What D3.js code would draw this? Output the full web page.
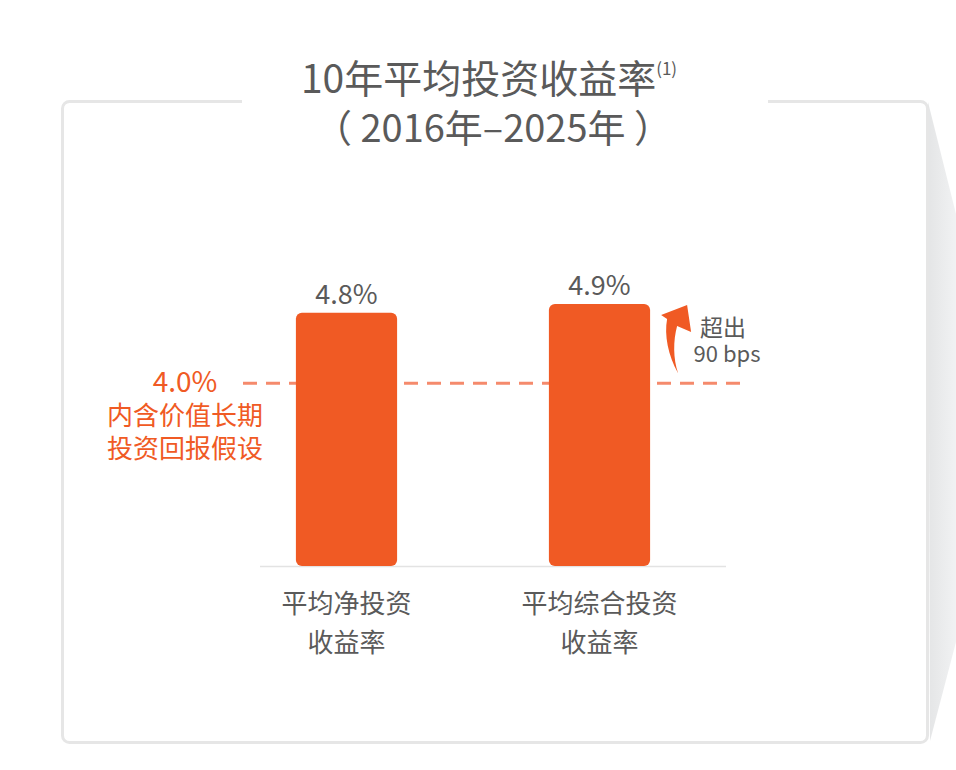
<!DOCTYPE html>
<html>
<head>
    <meta charset="utf-8">
    <title>10年平均投资收益率</title>
    <script src="https://cdn.jsdelivr.net/npm/d3@7"></script>
    <style>
        body { margin: 0; background: #fff; }
        text { font-family: "Noto Sans CJK SC", "Noto Sans", sans-serif; }
    </style>
</head>
<body>
    <div id="chart"></div>
    <script>
        // data
        var categories = [["平均净投资", "收益率"], ["平均综合投资", "收益率"]];
        var values = [4.8, 4.9];
        var valueLabels = ["4.8%", "4.9%"];
        var assumption = 4.0;
        var assumptionLabel = ["4.0%", "内含价值长期", "投资回报假设"];
        var spreadLabel = ["超出", "90 bps"];
        var titleLines = ["10年平均投资收益率", "（ 2016年–2025年 ）"];

        var width = 956,
            height = 770;

        var orange = "#f05a24",
            dashOrange = "#f58a6c",
            grey = "#5a5a5a",
            border = "#e6e6e6";

        var svg = d3.select("#chart").append("svg")
            .attr("width", width)
            .attr("height", height);

        var defs = svg.append("defs");
        var grad = defs.append("linearGradient").attr("id", "shade")
            .attr("x1", "0").attr("x2", "1").attr("y1", "0").attr("y2", "0");
        grad.append("stop").attr("offset", "0").attr("stop-color", "#e4e5e6");
        grad.append("stop").attr("offset", "1").attr("stop-color", "#f1f2f3");

        // page-curl shadow on the right
        svg.append("path")
            .attr("d", "M928,102 L956,214 L956,642 L930,741 Z")
            .attr("fill", "url(#shade)");

        // frame
        svg.append("rect")
            .attr("x", 62.5).attr("y", 101.5)
            .attr("width", 865).attr("height", 641)
            .attr("rx", 7)
            .attr("fill", "#fff")
            .attr("stroke", border)
            .attr("stroke-width", 3);

        // gap in the frame behind the title
        svg.append("rect")
            .attr("x", 242).attr("y", 96)
            .attr("width", 526).attr("height", 10)
            .attr("fill", "#fff");

        // title
        var t1 = svg.append("text")
            .attr("x", 489).attr("y", 93)
            .attr("text-anchor", "middle")
            .attr("fill", grey)
            .style("font-size", "39px");
        t1.append("tspan").text(titleLines[0]);
        t1.append("tspan").attr("dy", -18).style("font-size", "17px").text("(1)");

        svg.append("text")
            .attr("x", 493).attr("y", 142)
            .attr("text-anchor", "middle")
            .attr("fill", grey)
            .style("font-size", "38px")
            .text(titleLines[1]);

        // scales
        var x = d3.scaleBand()
            .domain(d3.range(values.length))
            .range([220, 726])
            .paddingInner(0.6)
            .paddingOuter(0.3);

        var y = d3.scaleLinear()
            .domain([1.925, 4.9])
            .range([566, 304]);

        // assumption line (behind bars)
        svg.append("line")
            .attr("x1", 243).attr("x2", 748)
            .attr("y1", y(assumption)).attr("y2", y(assumption))
            .attr("stroke", dashOrange)
            .attr("stroke-width", 3)
            .attr("stroke-dasharray", "14,9");

        // baseline
        svg.append("line")
            .attr("x1", 260).attr("x2", 726)
            .attr("y1", y.range()[0] + 0.5).attr("y2", y.range()[0] + 0.5)
            .attr("stroke", "#e3e3e3")
            .attr("stroke-width", 1.5);

        // bars
        svg.selectAll("rect.bar").data(values).enter()
            .append("rect")
            .attr("class", "bar")
            .attr("x", function(d, i) { return x(i); })
            .attr("y", function(d) { return y(d); })
            .attr("width", x.bandwidth())
            .attr("height", function(d) { return y.range()[0] - y(d); })
            .attr("rx", 6)
            .attr("fill", orange);

        // value labels
        svg.selectAll("text.val").data(values).enter()
            .append("text")
            .attr("class", "val")
            .attr("x", function(d, i) { return x(i) + x.bandwidth() / 2; })
            .attr("y", function(d) { return y(d) - 9; })
            .attr("text-anchor", "middle")
            .attr("fill", grey)
            .style("font-size", "27px")
            .text(function(d, i) { return valueLabels[i]; });

        // category labels
        categories.forEach(function(c, i) {
            c.forEach(function(line, j) {
                svg.append("text")
                    .attr("x", x(i) + x.bandwidth() / 2)
                    .attr("y", 613 + j * 39)
                    .attr("text-anchor", "middle")
                    .attr("fill", grey)
                    .style("font-size", "26px")
                    .text(line);
            });
        });

        // assumption label
        assumptionLabel.forEach(function(line, j) {
            svg.append("text")
                .attr("x", 185)
                .attr("y", y(assumption) + 9 + j * 33)
                .attr("text-anchor", "middle")
                .attr("fill", orange)
                .style("font-size", j == 0 ? "28px" : "26px")
                .text(line);
        });

        // curved arrow from the assumption line up to the bar top
        var bx = x(1) + x.bandwidth();
        var yb = y(assumption) - 10, yt = y(values[1]) + 1;
        svg.append("path")
            .attr("d",
                "M" + (bx + 28) + "," + yb +
                " C" + (bx + 18) + "," + (yb - 18) + " " + (bx + 14) + "," + (yt + 30) + " " + (bx + 17) + "," + (yt + 14) +
                " L" + (bx + 11) + "," + (yt + 10) +
                " L" + (bx + 37) + "," + yt +
                " L" + (bx + 41) + "," + (yt + 27) +
                " L" + (bx + 27) + "," + (yt + 21) +
                " C" + (bx + 23) + "," + (yt + 36) + " " + (bx + 23) + "," + (yb - 15) + " " + (bx + 28) + "," + yb + " Z")
            .attr("fill", orange);

        // spread label
        svg.append("text")
            .attr("x", 723).attr("y", 336)
            .attr("text-anchor", "middle")
            .attr("fill", grey)
            .style("font-size", "23px")
            .text(spreadLabel[0]);
        svg.append("text")
            .attr("x", 727).attr("y", 362)
            .attr("text-anchor", "middle")
            .attr("fill", grey)
            .style("font-size", "22px")
            .text(spreadLabel[1]);
    </script>
</body>
</html>
